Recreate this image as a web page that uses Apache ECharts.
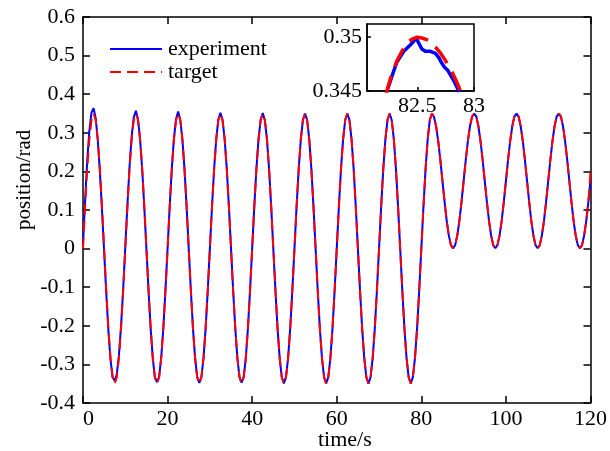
<!DOCTYPE html>
<html>
<head>
<meta charset="utf-8">
<script src="https://cdn.jsdelivr.net/npm/echarts@6/dist/echarts.min.js"></script>
<style>html,body{margin:0;padding:0;background:#fff}#c{width:610px;height:451px}</style>
</head>
<body>
<div id="c"></div>
<script>
// ---- data (sampled every 0.5 s from t = 0 to 120 s) ----
const tStart = 0;
const tStep = 0.5;
const xTicks = [0, 20, 40, 60, 80, 100, 120];
const yTicks = [-0.4, -0.3, -0.2, -0.1, 0, 0.1, 0.2, 0.3, 0.4, 0.5, 0.6];

const target = [
  0, 0.108, 0.206, 0.283, 0.333, 0.350, 0.333, 0.283, 0.206, 0.108, 0, -0.108, -0.206, -0.283, -0.333, -0.350, -0.333, -0.283, -0.206, -0.108,
  0, 0.108, 0.206, 0.283, 0.333, 0.350, 0.333, 0.283, 0.206, 0.108, 0, -0.108, -0.206, -0.283, -0.333, -0.350, -0.333, -0.283, -0.206, -0.108,
  0, 0.108, 0.206, 0.283, 0.333, 0.350, 0.333, 0.283, 0.206, 0.108, 0, -0.108, -0.206, -0.283, -0.333, -0.350, -0.333, -0.283, -0.206, -0.108,
  0, 0.108, 0.206, 0.283, 0.333, 0.350, 0.333, 0.283, 0.206, 0.108, 0, -0.108, -0.206, -0.283, -0.333, -0.350, -0.333, -0.283, -0.206, -0.108,
  0, 0.108, 0.206, 0.283, 0.333, 0.350, 0.333, 0.283, 0.206, 0.108, 0, -0.108, -0.206, -0.283, -0.333, -0.350, -0.333, -0.283, -0.206, -0.108,
  0, 0.108, 0.206, 0.283, 0.333, 0.350, 0.333, 0.283, 0.206, 0.108, 0, -0.108, -0.206, -0.283, -0.333, -0.350, -0.333, -0.283, -0.206, -0.108,
  0, 0.108, 0.206, 0.283, 0.333, 0.350, 0.333, 0.283, 0.206, 0.108, 0, -0.108, -0.206, -0.283, -0.333, -0.350, -0.333, -0.283, -0.206, -0.108,
  0, 0.108, 0.206, 0.283, 0.333, 0.350, 0.333, 0.283, 0.206, 0.108, 0, -0.108, -0.206, -0.283, -0.333, -0.350, -0.333, -0.283, -0.206, -0.108,
  0, 0.108, 0.206, 0.283, 0.333, 0.350,
  0.342, 0.317, 0.278, 0.229, 0.175, 0.121, 0.072, 0.034, 0.009, 0.000, 0.009, 0.034, 0.072, 0.121,
  0.175, 0.229, 0.278, 0.317, 0.342, 0.350, 0.342, 0.317, 0.278, 0.229, 0.175, 0.121, 0.072, 0.034, 0.009, 0.000, 0.009, 0.034, 0.072, 0.121,
  0.175, 0.229, 0.278, 0.317, 0.342, 0.350, 0.342, 0.317, 0.278, 0.229, 0.175, 0.121, 0.072, 0.034, 0.009, 0.000, 0.009, 0.034, 0.072, 0.121,
  0.175, 0.229, 0.278, 0.317, 0.342, 0.350, 0.342, 0.317, 0.278, 0.229, 0.175, 0.121, 0.072, 0.034, 0.009, 0.000, 0.009, 0.034, 0.072, 0.121,
  0.200
];

const experiment = [
  0.012, 0.125, 0.228, 0.305, 0.352, 0.364, 0.338, 0.280, 0.198, 0.098, -0.008, -0.115, -0.212, -0.287, -0.333, -0.343, -0.325, -0.275, -0.200, -0.105,
  0.005, 0.112, 0.212, 0.290, 0.340, 0.357, 0.336, 0.283, 0.205, 0.106, -0.002, -0.110, -0.207, -0.284, -0.334, -0.346, -0.332, -0.282, -0.205, -0.107,
  0.001, 0.109, 0.208, 0.285, 0.336, 0.355, 0.334, 0.283, 0.206, 0.108, 0, -0.108, -0.206, -0.283, -0.333, -0.348, -0.333, -0.283, -0.206, -0.108,
  0, 0.108, 0.206, 0.283, 0.334, 0.352, 0.333, 0.283, 0.206, 0.108, 0, -0.108, -0.206, -0.283, -0.333, -0.347, -0.333, -0.283, -0.206, -0.108,
  0, 0.108, 0.206, 0.283, 0.333, 0.351, 0.333, 0.283, 0.206, 0.108, 0, -0.108, -0.206, -0.283, -0.333, -0.349, -0.333, -0.283, -0.206, -0.108,
  0, 0.108, 0.206, 0.283, 0.333, 0.350, 0.333, 0.283, 0.206, 0.108, 0, -0.108, -0.206, -0.283, -0.333, -0.349, -0.333, -0.283, -0.206, -0.108,
  0, 0.108, 0.206, 0.283, 0.333, 0.350, 0.333, 0.283, 0.206, 0.108, 0, -0.108, -0.206, -0.283, -0.333, -0.350, -0.333, -0.283, -0.206, -0.108,
  0, 0.108, 0.206, 0.283, 0.333, 0.350, 0.333, 0.283, 0.206, 0.108, 0, -0.108, -0.206, -0.283, -0.333, -0.349, -0.333, -0.283, -0.206, -0.108,
  0, 0.108, 0.206, 0.283, 0.333, 0.350,
  0.341, 0.316, 0.278, 0.229, 0.175, 0.121, 0.072, 0.034, 0.009, 0.001, 0.009, 0.034, 0.072, 0.121,
  0.175, 0.229, 0.278, 0.317, 0.342, 0.350, 0.342, 0.317, 0.278, 0.229, 0.175, 0.121, 0.072, 0.034, 0.009, 0.001, 0.009, 0.034, 0.072, 0.121,
  0.175, 0.229, 0.278, 0.317, 0.342, 0.350, 0.342, 0.317, 0.278, 0.229, 0.175, 0.121, 0.072, 0.034, 0.009, 0.001, 0.009, 0.034, 0.072, 0.121,
  0.175, 0.229, 0.278, 0.317, 0.342, 0.350, 0.342, 0.317, 0.278, 0.229, 0.175, 0.121, 0.072, 0.034, 0.009, 0.001, 0.009, 0.034, 0.072, 0.121,
  0.178
];

// inset (zoom around the peak at 82.5 s)
const insetXTicks = [82.5, 83];
const insetYTicks = [0.345, 0.35];
const insetTimeTarget = [82.22, 82.27, 82.32, 82.37, 82.42, 82.47, 82.50, 82.55, 82.60, 82.65, 82.70, 82.75, 82.80, 82.85, 82.90];
const insetTarget     = [0.3446, 0.3464, 0.3478, 0.3488, 0.3496, 0.3499, 0.3500, 0.3499, 0.3497, 0.3492, 0.3486, 0.3478, 0.3469, 0.3458, 0.3445];
const insetTimeExp = [82.23, 82.28, 82.32, 82.38, 82.44, 82.49, 82.54, 82.57, 82.61, 82.66, 82.69, 82.71, 82.74, 82.77, 82.82, 82.87];
const insetExp     = [0.3449, 0.3465, 0.3477, 0.3487, 0.3493, 0.3499, 0.3489, 0.3487, 0.3487, 0.3485, 0.3481, 0.3477, 0.3472, 0.3469, 0.3460, 0.3449];

// ---- build ----
const FONT = 'Liberation Serif';
const pairs = (arr) => arr.map((v, i) => [tStart + i * tStep, v]);
const zip = (xs, ys) => xs.map((x, i) => [x, ys[i]]);

const chart = echarts.init(document.getElementById('c'), null, {renderer: 'canvas'});
const axisLine = {show: true, onZero: false, lineStyle: {color: '#000', width: 1.5}};
const tickIn = (len) => ({show: true, inside: true, length: len, lineStyle: {color: '#000', width: 1.5}});

chart.setOption({
  animation: false,
  backgroundColor: '#fff',
  textStyle: {fontFamily: FONT},
  legend: {
    data: ['experiment', 'target'],
    orient: 'vertical',
    left: 104, top: 33,
    itemWidth: 52, itemHeight: 14, itemGap: 1,
    itemStyle: {opacity: 0},
    textStyle: {fontFamily: FONT, fontSize: 22, color: '#000', lineHeight: 22, padding: [0, 0, 0, 1]},
    selectedMode: false
  },
  grid: [
    {left: 83, top: 17, width: 510, height: 386},
    {left: 367, top: 24, width: 107, height: 67, show: true, backgroundColor: '#fff', borderColor: '#000', borderWidth: 1.5}
  ],
  xAxis: [
    {type: 'value', gridIndex: 0, position: 'bottom', min: xTicks[0], max: xTicks[xTicks.length - 1], interval: 20,
     axisLine, axisTick: tickIn(7), splitLine: {show: false},
     axisLabel: {fontFamily: FONT, fontSize: 22, color: '#000', margin: 5, alignMinLabel: 'left'}},
    {type: 'value', gridIndex: 0, position: 'top', min: xTicks[0], max: xTicks[xTicks.length - 1], interval: 20,
     axisLine, axisTick: tickIn(7), splitLine: {show: false}, axisLabel: {show: false}},
    {type: 'value', gridIndex: 1, position: 'bottom', min: 82.056, max: 83,
     axisLine, axisTick: Object.assign(tickIn(4), {customValues: insetXTicks}), splitLine: {show: false},
     axisLabel: {fontFamily: FONT, fontSize: 22, color: '#000', margin: 4, customValues: insetXTicks}}
  ],
  yAxis: [
    {type: 'value', gridIndex: 0, position: 'left', min: yTicks[0], max: yTicks[yTicks.length - 1], interval: 0.1,
     axisLine, axisTick: tickIn(7), splitLine: {show: false},
     axisLabel: {fontFamily: FONT, fontSize: 22, color: '#000', margin: 8, padding: [7, 0, 0, 0]}},
    {type: 'value', gridIndex: 0, position: 'right', min: yTicks[0], max: yTicks[yTicks.length - 1], interval: 0.1,
     axisLine, axisTick: tickIn(7), splitLine: {show: false}, axisLabel: {show: false}},
    {type: 'value', gridIndex: 1, position: 'left', min: 0.345, max: 0.35123,
     axisLine, axisTick: Object.assign(tickIn(4), {customValues: insetYTicks}), splitLine: {show: false},
     axisLabel: {fontFamily: FONT, fontSize: 22, color: '#000', margin: 5, customValues: insetYTicks,
                 formatter: (v) => String(+v.toFixed(3))}}
  ],
  graphic: [
    {type: 'text', left: 318, top: 429, style: {text: 'time/s', font: '22px "Liberation Serif"', fill: '#000'}},
    {type: 'text', x: 14, y: 230, rotation: Math.PI / 2,
     style: {text: 'position/rad', font: '21px "Liberation Serif"', fill: '#000'}}
  ],
  series: [
    {name: 'experiment', type: 'line', xAxisIndex: 0, yAxisIndex: 0, data: pairs(experiment),
     showSymbol: false, symbol: 'none', color: '#0000ff', lineStyle: {color: '#0000ff', width: 2}, z: 2},
    {name: 'target', type: 'line', xAxisIndex: 0, yAxisIndex: 0, data: pairs(target),
     showSymbol: false, symbol: 'none', color: '#ff0000', lineStyle: {color: '#ff0000', width: 2, type: [11, 6]}, z: 3},
    {name: 'experiment-zoom', type: 'line', xAxisIndex: 2, yAxisIndex: 2, data: zip(insetTimeExp, insetExp),
     showSymbol: false, symbol: 'none', lineStyle: {color: '#0000ff', width: 3.5}, z: 4},
    {name: 'target-zoom', type: 'line', xAxisIndex: 2, yAxisIndex: 2, data: zip(insetTimeTarget, insetTarget),
     showSymbol: false, symbol: 'none', lineStyle: {color: '#ff0000', width: 3.5, type: [20, 10]}, z: 5}
  ]
});
</script>
</body>
</html>
